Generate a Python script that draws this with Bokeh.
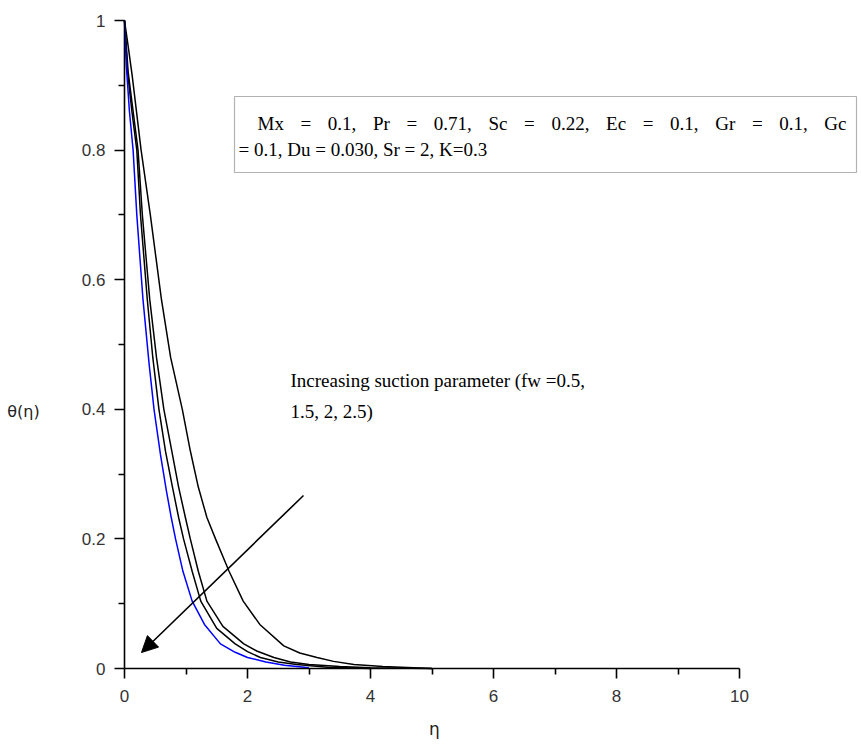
from bokeh.plotting import figure
from bokeh.models import Range1d, FixedTicker, Label, BoxAnnotation, Arrow, NormalHead
from bokeh.embed import file_html
from bokeh.resources import INLINE

# ---------------- data ----------------
eta_fw25 = [0, 0.03, 0.08, 0.14, 0.2, 0.3, 0.4, 0.48, 0.585, 0.68, 0.76, 0.83, 0.95, 1.10, 1.3, 1.56, 1.8, 2.0, 2.3, 2.6, 3.0]
theta_fw25 = [1, 0.93, 0.86, 0.80, 0.70, 0.57, 0.47, 0.40, 0.33, 0.275, 0.233, 0.20, 0.15, 0.104, 0.068, 0.038, 0.025, 0.017, 0.010, 0.005, 0.001]

eta_fw2 = [0, 0.05, 0.12, 0.2, 0.26, 0.37, 0.46, 0.56, 0.667, 0.78, 0.88, 0.96, 1.1, 1.24, 1.5, 1.8, 2.0, 2.21, 2.5, 2.8, 3.3, 4.0]
theta_fw2 = [1, 0.92, 0.86, 0.80, 0.70, 0.57, 0.48, 0.40, 0.335, 0.28, 0.233, 0.20, 0.15, 0.104, 0.062, 0.038, 0.026, 0.017, 0.010, 0.006, 0.002, 0.0]

eta_fw15 = [0, 0.06, 0.14, 0.22, 0.29, 0.41, 0.52, 0.64, 0.78, 0.88, 0.99, 1.07, 1.2, 1.34, 1.6, 1.94, 2.15, 2.43, 2.7, 3.0, 3.5, 4.0, 5.0]
theta_fw15 = [1, 0.92, 0.86, 0.80, 0.70, 0.57, 0.48, 0.40, 0.33, 0.28, 0.233, 0.20, 0.15, 0.104, 0.065, 0.038, 0.027, 0.017, 0.010, 0.006, 0.003, 0.001, 0.0]

eta_fw05 = [0, 0.06, 0.125, 0.27, 0.42, 0.60, 0.75, 0.94, 1.07, 1.2, 1.34, 1.48, 1.7, 1.93, 2.2, 2.59, 2.85, 3.13, 3.4, 3.73, 4.2, 5.0]
theta_fw05 = [1, 0.96, 0.915, 0.80, 0.70, 0.57, 0.48, 0.40, 0.336, 0.28, 0.233, 0.20, 0.15, 0.104, 0.068, 0.035, 0.024, 0.017, 0.011, 0.006, 0.003, 0.0]

x_ticks = [0, 2, 4, 6, 8, 10]
x_minor_ticks = [1, 3, 5, 7, 9]
y_ticks = [0, 0.2, 0.4, 0.6, 0.8, 1]
y_tick_labels = ["0", "0.2", "0.4", "0.6", "0.8", "1"]
y_minor_ticks = [0.1, 0.3, 0.5, 0.7, 0.9]

x_label = "η"
y_label = "θ(η)"
params_line1 = "Mx = 0.1, Pr = 0.71, Sc = 0.22, Ec = 0.1, Gr = 0.1, Gc"
params_line2 = "= 0.1, Du = 0.030, Sr = 2, K=0.3"
note_line1 = "Increasing suction parameter (fw =0.5,"
note_line2 = "1.5, 2, 2.5)"

# ---------------- layout ----------------
W, H = 860, 743
X0_PX, PX_PER_X = 124.0, 61.5     # screen x of eta = 0, pixels per unit
Y0_PX, PX_PER_Y = 668.0, 648.0    # screen y of theta = 0, pixels per unit


def dx(px):  # screen pixel -> data x
    return (px - X0_PX) / PX_PER_X


def dy(py):  # screen pixel -> data y
    return (Y0_PX - py) / PX_PER_Y


p = figure(width=W, height=H, output_backend="svg", toolbar_location=None,
           x_range=Range1d(dx(0), dx(W)), y_range=Range1d(dy(H), dy(0)),
           min_border_left=0, min_border_right=0,
           min_border_top=0, min_border_bottom=0)
p.outline_line_color = None
p.grid.visible = False
p.background_fill_color = "white"
p.border_fill_color = "white"

p.xaxis.ticker = FixedTicker(ticks=x_ticks, minor_ticks=x_minor_ticks)
p.yaxis.ticker = FixedTicker(ticks=y_ticks, minor_ticks=y_minor_ticks)
p.yaxis.major_label_overrides = {t: s for t, s in zip(y_ticks, y_tick_labels)}
p.xaxis.bounds = (0, 10)
p.yaxis.bounds = (0, 1)
p.xaxis.fixed_location = 0
p.yaxis.fixed_location = 0

for ax in (p.xaxis[0], p.yaxis[0]):
    ax.axis_line_color = "black"
    ax.axis_line_width = 1.6
    ax.major_tick_line_color = "black"
    ax.major_tick_line_width = 1.6
    ax.minor_tick_line_color = "black"
    ax.minor_tick_line_width = 1.6
    ax.major_tick_in = 0
    ax.major_tick_out = 10
    ax.minor_tick_in = 0
    ax.minor_tick_out = 6
    ax.major_label_text_font = "Liberation Sans"
    ax.major_label_text_font_size = "17px"
    ax.major_label_text_color = "#333333"
p.xaxis.major_label_standoff = 11
p.yaxis.major_label_standoff = 9

p.line(eta_fw05, theta_fw05, line_color="black", line_width=1.5)
p.line(eta_fw15, theta_fw15, line_color="black", line_width=1.5)
p.line(eta_fw2, theta_fw2, line_color="black", line_width=1.5)
p.line(eta_fw25, theta_fw25, line_color="#0000ff", line_width=1.5)

# axis titles
p.add_layout(Label(x=dx(23), y=dy(411), text=y_label, text_font="DejaVu Sans",
                   text_font_size="16px", text_align="center", text_baseline="middle",
                   text_color="#222222"))
p.add_layout(Label(x=dx(434), y=dy(728), text=x_label, text_font="DejaVu Sans",
                   text_font_size="17px", text_align="center", text_baseline="middle",
                   text_color="#222222"))

# parameter box
p.add_layout(BoxAnnotation(left=dx(234), right=dx(856), top=dy(96), bottom=dy(172),
                           fill_color="white", fill_alpha=1.0,
                           line_color="black", line_width=1.2))

FS = 19
TIMES_W = {'M': 889, 'x': 500, '=': 564, '.': 250, ',': 250, 'P': 556, 'r': 333,
           'S': 556, 'c': 444, 'E': 611, 'G': 722, ' ': 250}


def tw(s):
    return sum(TIMES_W.get(ch, 500) for ch in s) * FS / 1000.0


# first line is justified across the box like the original
tokens = params_line1.split(" ")
x_left, x_right = 257, 846
gap = (x_right - x_left - sum(tw(t) for t in tokens)) / (len(tokens) - 1)
cur = x_left
for t in tokens:
    p.add_layout(Label(x=dx(cur), y=dy(123), text=t, text_font="Liberation Serif",
                       text_font_size=f"{FS}px", text_align="left",
                       text_baseline="alphabetic", text_color="black"))
    cur += tw(t) + gap
p.add_layout(Label(x=dx(238), y=dy(149), text=params_line2, text_font="Liberation Serif",
                   text_font_size=f"{FS}px", text_align="left",
                   text_baseline="alphabetic", text_color="black"))

# annotation
p.add_layout(Label(x=dx(290), y=dy(380), text=note_line1, text_font="Liberation Serif",
                   text_font_size=f"{FS}px", text_align="left",
                   text_baseline="alphabetic", text_color="black"))
p.add_layout(Label(x=dx(290), y=dy(411), text=note_line2, text_font="Liberation Serif",
                   text_font_size=f"{FS}px", text_align="left",
                   text_baseline="alphabetic", text_color="black"))
p.add_layout(Arrow(end=NormalHead(size=16, fill_color="black", line_color="black"),
                   x_start=dx(303), y_start=dy(495), x_end=dx(141), y_end=dy(652),
                   line_color="black", line_width=1.6))

open("out.html", "w").write(file_html(p, INLINE))
